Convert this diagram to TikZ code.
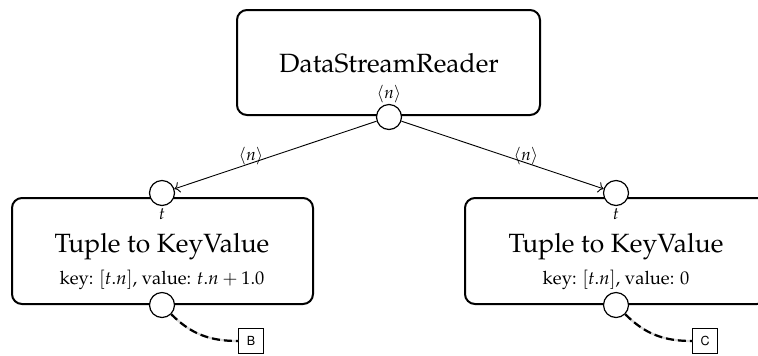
\documentclass[tikz,border=0pt]{standalone}
\usepackage[T1]{fontenc}
\usepackage{mathpazo}
\usepackage[scaled=0.92]{helvet}
\usetikzlibrary{arrows.meta}
\begin{document}
\begin{tikzpicture}[x=0.5pt,y=-0.5pt,
  box/.style={draw, line width=1pt, rounded corners=5pt, fill=white, inner sep=0pt},
  port/.style={circle, draw, fill=white, line width=0.6pt, minimum size=12.5pt, inner sep=0pt},
  conn/.style={->, line width=0.45pt},
  sink/.style={draw, line width=0.5pt, minimum size=12.5pt, inner sep=0pt, font=\fontsize{6.8}{8}\selectfont\sffamily},
  dashgray/.style={draw=black!15, line width=1.1pt},
  dashblack/.style={draw=black, line width=1.1pt, dash pattern=on 4pt off 2pt},
  title/.style={font=\fontsize{13.2}{16}\selectfont},
  sub/.style={font=\fontsize{9.2}{11}\selectfont},
  lbl/.style={font=\fontsize{8.5}{10}\selectfont, inner sep=0pt}]
\clip (0,0) rectangle (758,355);
\useasboundingbox (0,0) rectangle (758,355);

% boxes
\node[box, minimum width=151.5pt, minimum height=52.5pt] (dsr) at (388.5,62.5) {};
\node[box, minimum width=150.5pt, minimum height=53pt] (lb) at (162.5,251) {};
\node[box, minimum width=151pt, minimum height=53pt] (rb) at (616,251) {};

% texts
\node[title] (dsrt) at (389,63) {DataStreamReader};
\node[lbl] (dsrn) at (389,94) {$\langle n\rangle$};
\node[title] (lbt) at (162,247) {Tuple to KeyValue};
\node[sub] (lbk) at (162,280) {key: $[t.n]$, value: $t.n+1.0$};
\node[lbl] (lbtt) at (162,214) {$t$};
\node[title] (rbt) at (616,247) {Tuple to KeyValue};
\node[sub] (rbk) at (616,280) {key: $[t.n]$, value: $0$};
\node[lbl] (rbtt) at (616,214) {$t$};

% ports
\node[port] (dsro) at (389,117) {};
\node[port] (lbi) at (162,193) {};
\node[port] (lbo) at (162,305) {};
\node[port] (rbi) at (616,193) {};
\node[port] (rbo) at (616,305) {};

% sinks
\node[sink] (B) at (251,341) {B};
\node[sink] (C) at (705,341) {C};

% connectors
\draw[conn] (dsro) -- (lbi);
\draw[conn] (dsro) -- (rbi);
\node[lbl] (ln) at (251,156) {$\langle n\rangle$};
\node[lbl] (rn) at (526,156) {$\langle n\rangle$};

\draw[dashgray] (lbo.-45) to[out=-45,in=180] (B.west);
\draw[dashblack] (lbo.-45) to[out=-45,in=180] (B.west);
\draw[dashgray] (rbo.-45) to[out=-45,in=180] (C.west);
\draw[dashblack] (rbo.-45) to[out=-45,in=180] (C.west);
\end{tikzpicture}
\end{document}
